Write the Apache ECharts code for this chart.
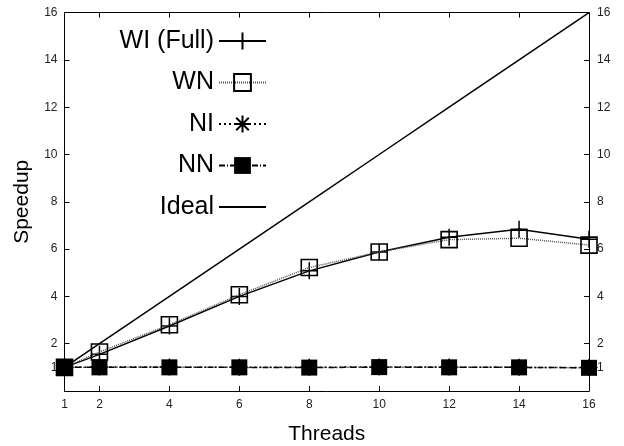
<!DOCTYPE html>
<html><head><meta charset="utf-8">
<script src="https://cdn.jsdelivr.net/npm/echarts@6/dist/echarts.min.js"></script>
<style>html,body{margin:0;padding:0;background:#fff}#c{width:624px;height:446px}</style>
</head><body><div id="c"></div>
<script>
const threads = [1, 2, 4, 6, 8, 10, 12, 14, 16];
const wiFull = [1.0, 1.55, 2.75, 4.0, 5.08, 5.88, 6.5, 6.84, 6.42];
const wn = [1.0, 1.65, 2.8, 4.07, 5.22, 5.88, 6.4, 6.46, 6.17];
const ni = [1.0, 1.01, 1.01, 1.0, 1.0, 1.02, 1.01, 1.0, 0.99];
const nn = [1.0, 1.0, 1.0, 1.0, 0.99, 1.01, 1.0, 1.0, 0.98];
const ideal = [1, 2, 4, 6, 8, 10, 12, 14, 16];
const xTicks = [1, 2, 4, 6, 8, 10, 12, 14, 16];
const xTopTicks = [2, 4, 6, 8, 10, 12, 14];
const yTicks = [1, 2, 4, 6, 8, 10, 12, 14, 16];
const seriesNames = ['WI (Full)', 'WN', 'NI', 'NN', 'Ideal'];

const FONT = 'Liberation Sans';
const pts = arr => threads.map((t, i) => [t, arr[i]]);
const PLUS = 'path://M0,-1L0,1M-1,0L1,0';
const STAR = 'path://M0,-1L0,1M-1,0L1,0M-0.75,-0.75L0.75,0.75M-0.75,0.75L0.75,-0.75';
const SQUARE = 'path://M-1,-1L1,-1L1,1L-1,1Z';

const chart = echarts.init(document.getElementById('c'), null, {renderer: 'canvas'});
const axisLine = {show: true, onZero: false, lineStyle: {color: '#000', width: 1}};
const labelStyle = {color: '#222', fontSize: 12, fontFamily: FONT};

const legendData = seriesNames.map(n => n === 'Ideal'
  ? {name: n, itemStyle: {color: 'transparent', borderColor: 'transparent', borderWidth: 0, opacity: 0}}
  : {name: n});

chart.setOption({
  animation: false,
  backgroundColor: '#fff',
  grid: {left: 64.5, right: 35, top: 12.6, bottom: 55, containLabel: false, outerBoundsMode: 'none'},
  legend: {
    orient: 'vertical',
    align: 'right',
    right: 352,
    top: 23.5,
    itemWidth: 47,
    itemHeight: 21,
    itemGap: 16.5,
    selectedMode: false,
    textStyle: {fontSize: 25, fontFamily: FONT, color: '#000', lineHeight: 25},
    data: legendData
  },
  xAxis: [{
    type: 'value', min: 1, max: 16, position: 'bottom',
    name: 'Threads', nameLocation: 'middle', nameGap: 33,
    nameTextStyle: {fontSize: 21, fontFamily: FONT, color: '#000'},
    axisLine: axisLine,
    splitLine: {show: false},
    axisTick: {show: true, inside: true, length: 5, customValues: xTicks, lineStyle: {color: '#000'}},
    axisLabel: Object.assign({customValues: xTicks, margin: 8}, labelStyle)
  }, {
    type: 'value', min: 1, max: 16, position: 'top',
    axisLine: axisLine,
    splitLine: {show: false},
    axisTick: {show: true, inside: true, length: 5, customValues: xTopTicks, lineStyle: {color: '#000'}},
    axisLabel: {show: false}
  }],
  yAxis: [{
    type: 'value', min: 0, max: 16, position: 'left',
    name: 'Speedup', nameLocation: 'middle', nameGap: 32, nameRotate: 90,
    nameTextStyle: {fontSize: 21, fontFamily: FONT, color: '#000'},
    axisLine: axisLine,
    splitLine: {show: false},
    axisTick: {show: true, inside: true, length: 5, customValues: yTicks, lineStyle: {color: '#000'}},
    axisLabel: Object.assign({customValues: yTicks, margin: 7}, labelStyle)
  }, {
    type: 'value', min: 0, max: 16, position: 'right',
    axisLine: axisLine,
    splitLine: {show: false},
    axisTick: {show: true, inside: true, length: 5, customValues: yTicks, lineStyle: {color: '#000'}},
    axisLabel: Object.assign({customValues: yTicks, margin: 8}, labelStyle)
  }],
  series: [{
    name: seriesNames[0], type: 'line', data: pts(wiFull),
    symbol: PLUS, symbolSize: 17, showAllSymbol: true,
    lineStyle: {color: '#000', width: 1.5, type: 'solid'},
    itemStyle: {color: 'transparent', borderColor: '#000', borderWidth: 1.5},
    z: 2
  }, {
    name: seriesNames[1], type: 'line', data: pts(wn),
    symbol: SQUARE, symbolSize: 16, showAllSymbol: true,
    lineStyle: {color: '#555', width: 1.5, type: [1, 1]},
    itemStyle: {color: 'transparent', borderColor: '#000', borderWidth: 1.6},
    z: 3
  }, {
    name: seriesNames[2], type: 'line', data: pts(ni),
    symbol: STAR, symbolSize: 17, showAllSymbol: true,
    lineStyle: {color: '#000', width: 1.5, type: [2, 3]},
    itemStyle: {color: 'transparent', borderColor: '#000', borderWidth: 1.5},
    z: 4
  }, {
    name: seriesNames[3], type: 'line', data: pts(nn),
    symbol: 'rect', symbolSize: 16, showAllSymbol: true,
    lineStyle: {color: '#000', width: 1.5, type: [6, 2, 1, 2]},
    itemStyle: {color: '#000', borderColor: '#000', borderWidth: 0},
    z: 5
  }, {
    name: seriesNames[4], type: 'line', data: pts(ideal),
    symbol: 'none',
    lineStyle: {color: '#000', width: 1.5, type: 'solid'},
    itemStyle: {color: '#000'},
    z: 6
  }]
});
</script>
</body></html>
